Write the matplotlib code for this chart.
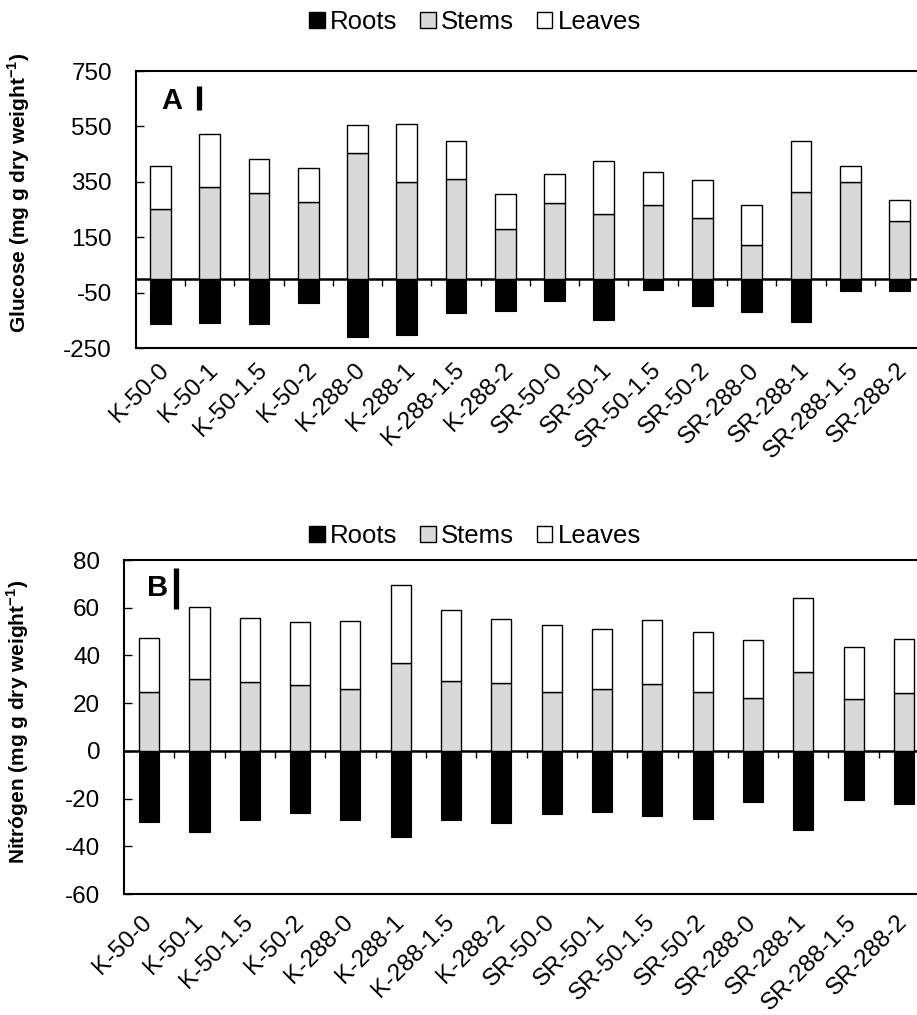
"""Stacked glucose / nitrogen partitioning bars (roots below zero)."""

import matplotlib
matplotlib.use("Agg")
import matplotlib.pyplot as plt
import matplotlib.patches as mpatches
import matplotlib.transforms as mtransforms
import numpy as np

plt.rcParams["font.family"] = ["Liberation Sans", "DejaVu Sans"]
plt.rcParams["mathtext.fontset"] = "custom"
plt.rcParams["mathtext.rm"] = "Liberation Sans"
plt.rcParams["mathtext.bf"] = "Liberation Sans:bold"
plt.rcParams["axes.unicode_minus"] = False

categories = [
    "K-50-0", "K-50-1", "K-50-1.5", "K-50-2",
    "K-288-0", "K-288-1", "K-288-1.5", "K-288-2",
    "SR-50-0", "SR-50-1", "SR-50-1.5", "SR-50-2",
    "SR-288-0", "SR-288-1", "SR-288-1.5", "SR-288-2",
]

# Glucose (mg g dry weight-1); roots plotted below zero
glucose_roots = [-164, -161, -164, -86, -210, -204, -122, -115,
                 -79, -150, -40, -97, -119, -155, -45, -43]
glucose_stems = [251, 332, 309, 277, 453, 350, 361, 181,
                 272, 234, 266, 219, 121, 312, 349, 210]
glucose_leaves = [155, 192, 123, 123, 101, 210, 138, 125,
                  108, 191, 119, 136, 147, 187, 58, 76]
glucose_lsd = 87

# Nitrogen (mg g dry weight-1)
nitrogen_roots = [-29.6, -34.2, -29.0, -25.9, -29.0, -36.0, -29.0, -30.3,
                  -26.5, -25.5, -27.5, -28.6, -21.6, -33.1, -20.5, -22.4]
nitrogen_stems = [24.8, 30.0, 28.8, 27.6, 25.8, 36.7, 29.5, 28.3,
                  24.9, 25.8, 28.0, 24.6, 22.3, 33.2, 21.7, 24.4]
nitrogen_leaves = [22.7, 30.5, 27.1, 26.3, 28.7, 32.9, 29.6, 27.2,
                   28.0, 25.2, 26.9, 25.1, 24.0, 30.8, 21.7, 22.6]
nitrogen_lsd = 17

STEM_GRAY = "#D9D9D9"
FS = 17.5


def draw_panel(ax, roots, stems, leaves, ylim, yticks, ylabel, letter,
               width, lsd, lsd_top, letter_xy, lsd_x, label_shift):
    x = np.arange(len(categories))
    stems = np.array(stems)
    ax.bar(x, roots, width, color="black", edgecolor="black", linewidth=0.8)
    ax.bar(x, stems, width, color=STEM_GRAY, edgecolor="black", linewidth=1.0)
    ax.bar(x, leaves, width, bottom=stems, color="white",
           edgecolor="black", linewidth=1.0)

    ax.set_xlim(-0.5, len(categories) - 0.5)
    ax.set_ylim(*ylim)
    ax.set_yticks(yticks)
    ax.tick_params(axis="y", direction="in", length=6, width=1,
                   labelsize=FS, pad=17)
    ax.set_xticks(x)
    ax.set_xticklabels(categories, rotation=45, ha="right", va="top",
                       rotation_mode="anchor", fontsize=FS)
    ax.tick_params(axis="x", length=0, pad=8)
    # nudge the rotated labels so the last one stays inside the figure
    shift = mtransforms.ScaledTranslation(label_shift[0] / 100, label_shift[1] / 100,
                                          ax.figure.dpi_scale_trans)
    for lbl in ax.get_xticklabels():
        lbl.set_transform(lbl.get_transform() + shift)
    for sp in ax.spines.values():
        sp.set_linewidth(1.5)

    # zero line with small ticks between categories
    zero_frac = (0 - ylim[0]) / (ylim[1] - ylim[0])
    sec = ax.secondary_xaxis(zero_frac)
    sec.set_xticks(x[:-1] + 0.5)
    sec.set_xticklabels([])
    sec.tick_params(direction="out", length=5, width=1)
    sec.spines["bottom"].set_linewidth(1.8)

    ax.set_ylabel(ylabel, fontsize=15, fontweight="bold")

    ax.text(letter_xy[0], letter_xy[1], letter, transform=ax.transAxes,
            ha="left", va="center", fontsize=21, fontweight="bold")
    ax.plot([lsd_x, lsd_x], [lsd_top - lsd, lsd_top],
            transform=ax.get_yaxis_transform(), color="black",
            linewidth=3.8, solid_capstyle="butt", zorder=5)

    handles = [
        mpatches.Patch(facecolor="black", edgecolor="black", label="Roots"),
        mpatches.Patch(facecolor=STEM_GRAY, edgecolor="black", label="Stems"),
        mpatches.Patch(facecolor="white", edgecolor="black", label="Leaves"),
    ]
    return handles


fig = plt.figure(figsize=(9.17, 10.15), dpi=100)
ax1 = fig.add_axes([0.148, 0.6571, 0.8597, 0.2729])
ax2 = fig.add_axes([0.1352, 0.1192, 0.878, 0.329])

h = draw_panel(ax1, glucose_roots, glucose_stems, glucose_leaves,
               (-250, 750), [-250, -50, 150, 350, 550, 750],
               r"Glucose (mg g dry weight$^{\mathbf{-1}}$)", "A",
               0.42, glucose_lsd, 695, (0.033, 0.892), 0.0797, (-3, 0))
draw_panel(ax2, nitrogen_roots, nitrogen_stems, nitrogen_leaves,
           (-60, 80), [-60, -40, -20, 0, 20, 40, 60, 80],
           r"Nitrógen (mg g dry weight$^{\mathbf{-1}}$)", "B",
           0.40, nitrogen_lsd, 76.6, (0.0286, 0.915), 0.064, (-8, -6))

ax1.yaxis.set_label_coords(-0.132, 0.56)
ax2.yaxis.set_label_coords(-0.115, 0.515)

for yy in (0.978, 0.472):
    fig.legend(handles=h, loc="center", bbox_to_anchor=(0.518, yy), ncol=3,
               frameon=False, fontsize=18.5, handlelength=0.6, handleheight=0.6,
               handletextpad=0.2, columnspacing=0.9, borderaxespad=0)

fig.savefig("out.png", dpi=100)
